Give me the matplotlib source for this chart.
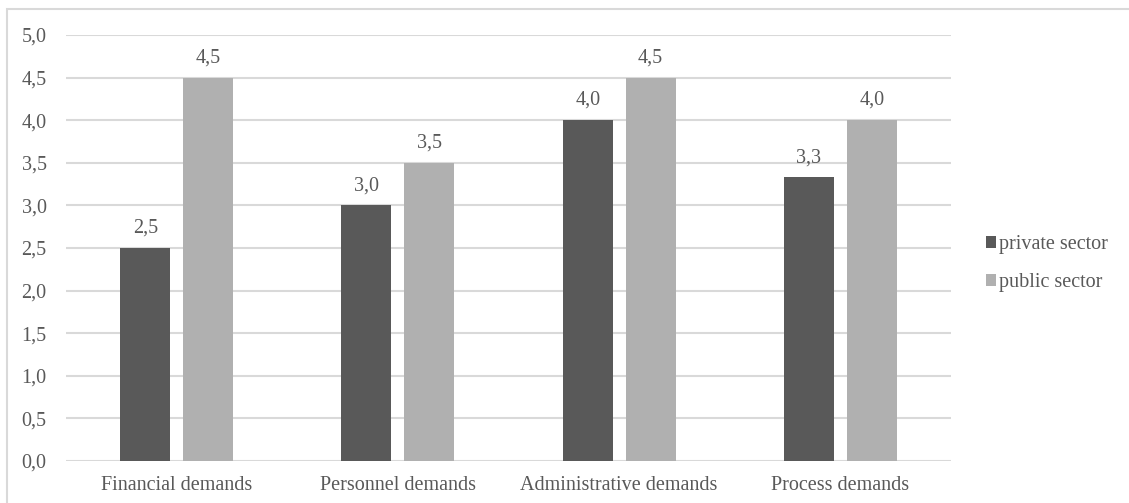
import numpy as np
import matplotlib
matplotlib.use("Agg")
import matplotlib.pyplot as plt
from matplotlib.patches import Rectangle

categories = ["Financial demands", "Personnel demands", "Administrative demands", "Process demands"]
private_sector = [2.5, 3.0, 4.0, 3.33]
public_sector = [4.5, 3.5, 4.5, 4.0]
series_names = ["private sector", "public sector"]
y_ticks = [0.0, 0.5, 1.0, 1.5, 2.0, 2.5, 3.0, 3.5, 4.0, 4.5, 5.0]

dark = "#595959"
light = "#b0b0b0"
text_col = "#595959"
fs = 14.5

plt.rcParams['font.family'] = ['Liberation Serif', 'DejaVu Serif']

W, H = 1129, 503
fig = plt.figure(figsize=(W / 100, H / 100), dpi=100)
ax = fig.add_axes([66 / W, 1 - 461 / H, (951 - 66) / W, (461 - 35) / H])

# outer chart border (cut off at right and bottom)
fig.patches.append(Rectangle((7 / W, -0.05), 1.1, 1 - 9 / H + 0.05,
                             transform=fig.transFigure, fill=False,
                             edgecolor="#d9d9d9", linewidth=1.5))

x = np.arange(len(categories))
w = 0.226
off = 0.142
b1 = ax.bar(x - off, private_sector, w, color=dark, label=series_names[0], zorder=3)
b2 = ax.bar(x + off, public_sector, w, color=light, label=series_names[1], zorder=3)

for bars, vals in ((b1, private_sector), (b2, public_sector)):
    for r, v in zip(bars, vals):
        ax.text(r.get_x() + r.get_width() / 2, v + 0.12, f"{v:.1f}".replace(".", ","),
                ha="center", va="bottom", fontsize=fs, color=text_col)

ax.set_xlim(-0.5, len(categories) - 0.5)
ax.set_ylim(0, 5.0)
ax.set_yticks(y_ticks)
ax.set_yticklabels([f"{t:.1f}".replace(".", ",") for t in y_ticks])
ax.set_xticks(x)
ax.set_xticklabels(categories)
ax.tick_params(axis="both", length=0, labelsize=fs, colors=text_col)
ax.tick_params(axis="y", pad=14)
ax.tick_params(axis="x", pad=11)
ax.grid(axis="y", color="#d9d9d9", linewidth=1.5, zorder=0)
for s in ax.spines.values():
    s.set_visible(False)

leg = fig.legend(loc="upper left", bbox_to_anchor=(978 / W, 1 - 227 / H),
                 frameon=False, fontsize=fs, handlelength=0.5, handleheight=0.5,
                 handletextpad=0.15, labelspacing=0.95, borderaxespad=0)
for t in leg.get_texts():
    t.set_color(text_col)

fig.savefig("out.png", dpi=100)
